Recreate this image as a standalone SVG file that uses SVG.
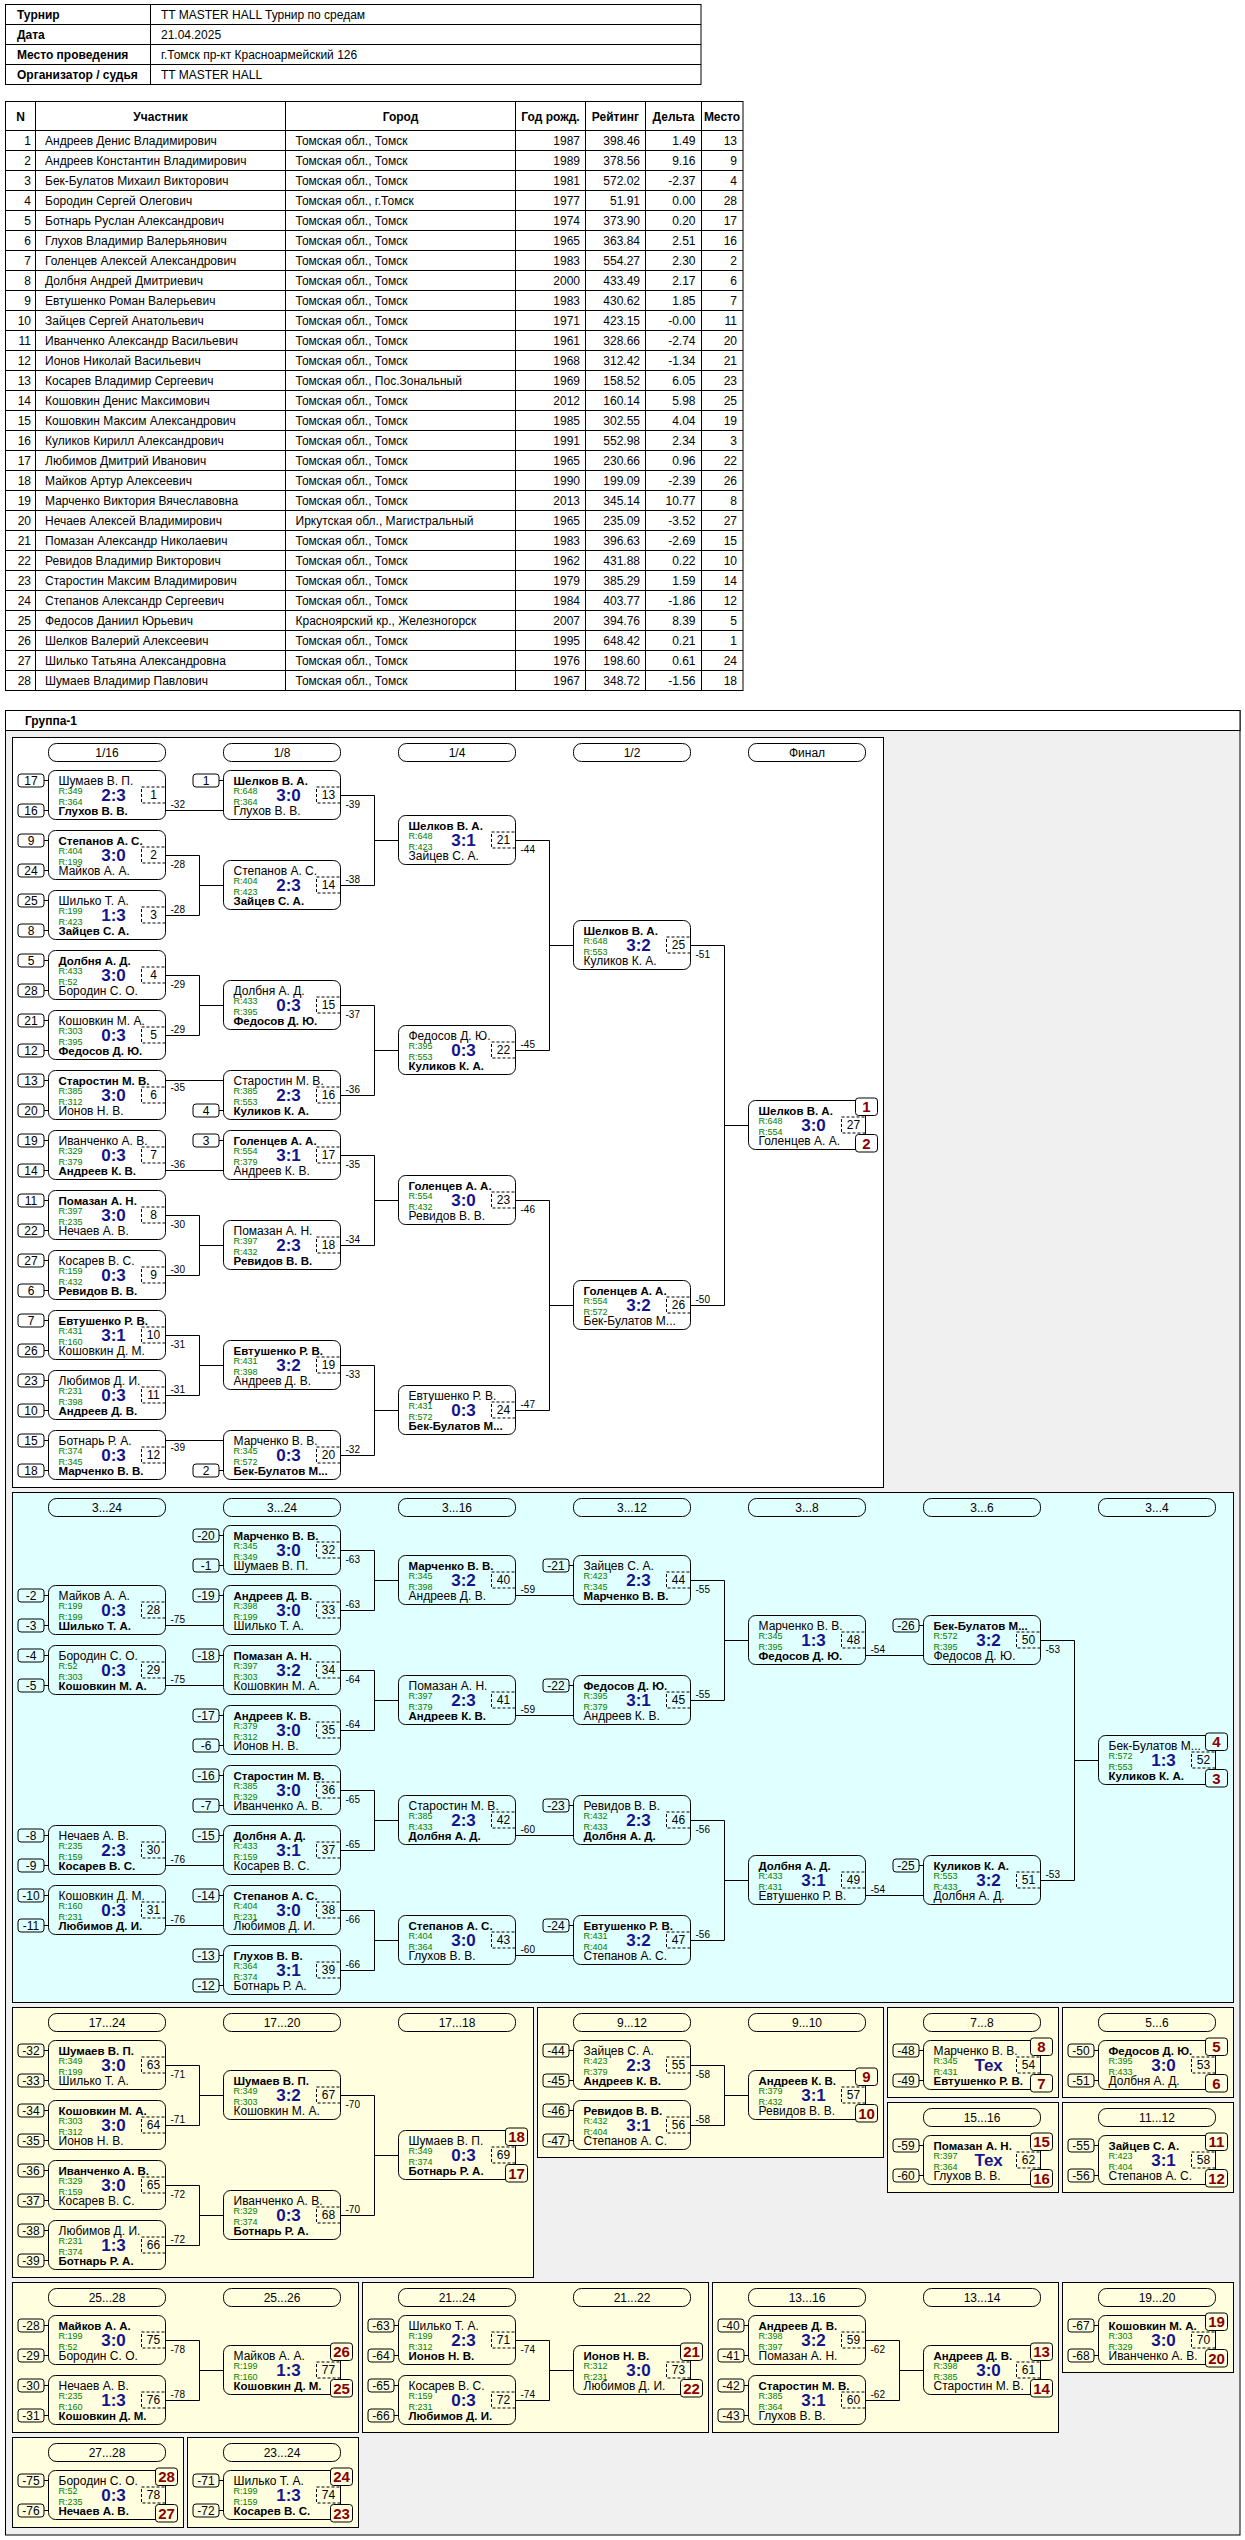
<svg xmlns="http://www.w3.org/2000/svg" width="1245" height="2540" viewBox="0 0 1245 2540">
<style>
text{font-family:"Liberation Sans",Arial,sans-serif;font-size:12px;fill:#000}
.tb{font-size:12px}
.h{font-weight:bold}
.e{text-anchor:end}
.c{text-anchor:middle}
.b{font-weight:bold;font-size:11.5px}
.r{font-size:9px;fill:#008000}
.sc{font-size:17px;font-weight:bold;fill:#14148c;text-anchor:middle}
.lb{font-size:10px}
.pn{font-size:15px;font-weight:bold;fill:#8b0000;text-anchor:middle}
.bx{fill:none;stroke:#000}
.nb{fill:none;stroke:#000;stroke-dasharray:3,2}
.sd{fill:none;stroke:#000}
.ln{fill:none;stroke:#000}
.pill{fill:none;stroke:#000}
.grid{stroke:#000;fill:none}
</style>
<defs>
<g id="B"><rect class="bx" width="117" height="49" rx="7"/><rect class="nb" x="93" y="16.5" width="24" height="16"/></g>
<g id="S1" class="sd"><rect x="-30.5" y="3.5" width="26" height="13" rx="3"/><path d="M-4.5 10H0"/></g>
<g id="S2" class="sd"><rect x="-30.5" y="33.5" width="26" height="13" rx="3"/><path d="M-4.5 40H0"/></g>
<rect id="P1" x="107" y="-2.5" width="22" height="17.5" rx="3" stroke="#000"/>
<rect id="P2" x="107" y="34" width="22" height="17.5" rx="3" stroke="#000"/>
<rect id="PL" width="117" height="18" rx="8" class="pill"/>
</defs>
<rect width="1245" height="2540" fill="#fff"/>

<g id="info">
<rect x="5.5" y="4.5" width="695.5" height="80" fill="#fff" stroke="#000"/>
<path class="grid" d="M5.5 24.5H701M5.5 44.5H701M5.5 64.5H701M150.5 4.5V84.5"/>
<text class="tb h" x="17" y="19">Турнир</text>
<text class="tb h" x="17" y="39">Дата</text>
<text class="tb h" x="17" y="59">Место проведения</text>
<text class="tb h" x="17" y="79">Организатор / судья</text>
<text class="tb" x="161" y="19">TT MASTER HALL Турнир по средам</text>
<text class="tb" x="161" y="39">21.04.2025</text>
<text class="tb" x="161" y="59">г.Томск пр-кт Красноармейский 126</text>
<text class="tb" x="161" y="79">TT MASTER HALL</text>
</g>

<g id="players">
<rect x="5.5" y="101.5" width="737.5" height="589" fill="#fff" stroke="#000"/>
<path class="grid" d="M5.5 130.5H743M5.5 150.5H743M5.5 170.5H743M5.5 190.5H743M5.5 210.5H743M5.5 230.5H743M5.5 250.5H743M5.5 270.5H743M5.5 290.5H743M5.5 310.5H743M5.5 330.5H743M5.5 350.5H743M5.5 370.5H743M5.5 390.5H743M5.5 410.5H743M5.5 430.5H743M5.5 450.5H743M5.5 470.5H743M5.5 490.5H743M5.5 510.5H743M5.5 530.5H743M5.5 550.5H743M5.5 570.5H743M5.5 590.5H743M5.5 610.5H743M5.5 630.5H743M5.5 650.5H743M5.5 670.5H743M35.5 101.5V690.5M285.5 101.5V690.5M515.5 101.5V690.5M585.5 101.5V690.5M645.5 101.5V690.5M701.5 101.5V690.5"/>
<text class="tb h c" x="20.5" y="120.5">N</text>
<text class="tb h c" x="160.5" y="120.5">Участник</text>
<text class="tb h c" x="400.5" y="120.5">Город</text>
<text class="tb h c" x="550.5" y="120.5">Год рожд.</text>
<text class="tb h c" x="615.5" y="120.5">Рейтинг</text>
<text class="tb h c" x="673.5" y="120.5">Дельта</text>
<text class="tb h c" x="722" y="120.5">Место</text>
<text class="tb e"><tspan x="31" y="145">1</tspan><tspan x="31" y="165">2</tspan><tspan x="31" y="185">3</tspan><tspan x="31" y="205">4</tspan><tspan x="31" y="225">5</tspan><tspan x="31" y="245">6</tspan><tspan x="31" y="265">7</tspan><tspan x="31" y="285">8</tspan><tspan x="31" y="305">9</tspan><tspan x="31" y="325">10</tspan><tspan x="31" y="345">11</tspan><tspan x="31" y="365">12</tspan><tspan x="31" y="385">13</tspan><tspan x="31" y="405">14</tspan><tspan x="31" y="425">15</tspan><tspan x="31" y="445">16</tspan><tspan x="31" y="465">17</tspan><tspan x="31" y="485">18</tspan><tspan x="31" y="505">19</tspan><tspan x="31" y="525">20</tspan><tspan x="31" y="545">21</tspan><tspan x="31" y="565">22</tspan><tspan x="31" y="585">23</tspan><tspan x="31" y="605">24</tspan><tspan x="31" y="625">25</tspan><tspan x="31" y="645">26</tspan><tspan x="31" y="665">27</tspan><tspan x="31" y="685">28</tspan></text>
<text class="tb"><tspan x="45" y="145">Андреев Денис Владимирович</tspan><tspan x="45" y="165">Андреев Константин Владимирович</tspan><tspan x="45" y="185">Бек-Булатов Михаил Викторович</tspan><tspan x="45" y="205">Бородин Сергей Олегович</tspan><tspan x="45" y="225">Ботнарь Руслан Александрович</tspan><tspan x="45" y="245">Глухов Владимир Валерьянович</tspan><tspan x="45" y="265">Голенцев Алексей Александрович</tspan><tspan x="45" y="285">Долбня Андрей Дмитриевич</tspan><tspan x="45" y="305">Евтушенко Роман Валерьевич</tspan><tspan x="45" y="325">Зайцев Сергей Анатольевич</tspan><tspan x="45" y="345">Иванченко Александр Васильевич</tspan><tspan x="45" y="365">Ионов Николай Васильевич</tspan><tspan x="45" y="385">Косарев Владимир Сергеевич</tspan><tspan x="45" y="405">Кошовкин Денис Максимович</tspan><tspan x="45" y="425">Кошовкин Максим Александрович</tspan><tspan x="45" y="445">Куликов Кирилл Александрович</tspan><tspan x="45" y="465">Любимов Дмитрий Иванович</tspan><tspan x="45" y="485">Майков Артур Алексеевич</tspan><tspan x="45" y="505">Марченко Виктория Вячеславовна</tspan><tspan x="45" y="525">Нечаев Алексей Владимирович</tspan><tspan x="45" y="545">Помазан Александр Николаевич</tspan><tspan x="45" y="565">Ревидов Владимир Викторович</tspan><tspan x="45" y="585">Старостин Максим Владимирович</tspan><tspan x="45" y="605">Степанов Александр Сергеевич</tspan><tspan x="45" y="625">Федосов Даниил Юрьевич</tspan><tspan x="45" y="645">Шелков Валерий Алексеевич</tspan><tspan x="45" y="665">Шилько Татьяна Александровна</tspan><tspan x="45" y="685">Шумаев Владимир Павлович</tspan></text>
<text class="tb"><tspan x="295.5" y="145">Томская обл., Томск</tspan><tspan x="295.5" y="165">Томская обл., Томск</tspan><tspan x="295.5" y="185">Томская обл., Томск</tspan><tspan x="295.5" y="205">Томская обл., г.Томск</tspan><tspan x="295.5" y="225">Томская обл., Томск</tspan><tspan x="295.5" y="245">Томская обл., Томск</tspan><tspan x="295.5" y="265">Томская обл., Томск</tspan><tspan x="295.5" y="285">Томская обл., Томск</tspan><tspan x="295.5" y="305">Томская обл., Томск</tspan><tspan x="295.5" y="325">Томская обл., Томск</tspan><tspan x="295.5" y="345">Томская обл., Томск</tspan><tspan x="295.5" y="365">Томская обл., Томск</tspan><tspan x="295.5" y="385">Томская обл., Пос.Зональный</tspan><tspan x="295.5" y="405">Томская обл., Томск</tspan><tspan x="295.5" y="425">Томская обл., Томск</tspan><tspan x="295.5" y="445">Томская обл., Томск</tspan><tspan x="295.5" y="465">Томская обл., Томск</tspan><tspan x="295.5" y="485">Томская обл., Томск</tspan><tspan x="295.5" y="505">Томская обл., Томск</tspan><tspan x="295.5" y="525">Иркутская обл., Магистральный</tspan><tspan x="295.5" y="545">Томская обл., Томск</tspan><tspan x="295.5" y="565">Томская обл., Томск</tspan><tspan x="295.5" y="585">Томская обл., Томск</tspan><tspan x="295.5" y="605">Томская обл., Томск</tspan><tspan x="295.5" y="625">Красноярский кр., Железногорск</tspan><tspan x="295.5" y="645">Томская обл., Томск</tspan><tspan x="295.5" y="665">Томская обл., Томск</tspan><tspan x="295.5" y="685">Томская обл., Томск</tspan></text>
<text class="tb e"><tspan x="580" y="145">1987</tspan><tspan x="580" y="165">1989</tspan><tspan x="580" y="185">1981</tspan><tspan x="580" y="205">1977</tspan><tspan x="580" y="225">1974</tspan><tspan x="580" y="245">1965</tspan><tspan x="580" y="265">1983</tspan><tspan x="580" y="285">2000</tspan><tspan x="580" y="305">1983</tspan><tspan x="580" y="325">1971</tspan><tspan x="580" y="345">1961</tspan><tspan x="580" y="365">1968</tspan><tspan x="580" y="385">1969</tspan><tspan x="580" y="405">2012</tspan><tspan x="580" y="425">1985</tspan><tspan x="580" y="445">1991</tspan><tspan x="580" y="465">1965</tspan><tspan x="580" y="485">1990</tspan><tspan x="580" y="505">2013</tspan><tspan x="580" y="525">1965</tspan><tspan x="580" y="545">1983</tspan><tspan x="580" y="565">1962</tspan><tspan x="580" y="585">1979</tspan><tspan x="580" y="605">1984</tspan><tspan x="580" y="625">2007</tspan><tspan x="580" y="645">1995</tspan><tspan x="580" y="665">1976</tspan><tspan x="580" y="685">1967</tspan></text>
<text class="tb e"><tspan x="640" y="145">398.46</tspan><tspan x="640" y="165">378.56</tspan><tspan x="640" y="185">572.02</tspan><tspan x="640" y="205">51.91</tspan><tspan x="640" y="225">373.90</tspan><tspan x="640" y="245">363.84</tspan><tspan x="640" y="265">554.27</tspan><tspan x="640" y="285">433.49</tspan><tspan x="640" y="305">430.62</tspan><tspan x="640" y="325">423.15</tspan><tspan x="640" y="345">328.66</tspan><tspan x="640" y="365">312.42</tspan><tspan x="640" y="385">158.52</tspan><tspan x="640" y="405">160.14</tspan><tspan x="640" y="425">302.55</tspan><tspan x="640" y="445">552.98</tspan><tspan x="640" y="465">230.66</tspan><tspan x="640" y="485">199.09</tspan><tspan x="640" y="505">345.14</tspan><tspan x="640" y="525">235.09</tspan><tspan x="640" y="545">396.63</tspan><tspan x="640" y="565">431.88</tspan><tspan x="640" y="585">385.29</tspan><tspan x="640" y="605">403.77</tspan><tspan x="640" y="625">394.76</tspan><tspan x="640" y="645">648.42</tspan><tspan x="640" y="665">198.60</tspan><tspan x="640" y="685">348.72</tspan></text>
<text class="tb e"><tspan x="695.5" y="145">1.49</tspan><tspan x="695.5" y="165">9.16</tspan><tspan x="695.5" y="185">-2.37</tspan><tspan x="695.5" y="205">0.00</tspan><tspan x="695.5" y="225">0.20</tspan><tspan x="695.5" y="245">2.51</tspan><tspan x="695.5" y="265">2.30</tspan><tspan x="695.5" y="285">2.17</tspan><tspan x="695.5" y="305">1.85</tspan><tspan x="695.5" y="325">-0.00</tspan><tspan x="695.5" y="345">-2.74</tspan><tspan x="695.5" y="365">-1.34</tspan><tspan x="695.5" y="385">6.05</tspan><tspan x="695.5" y="405">5.98</tspan><tspan x="695.5" y="425">4.04</tspan><tspan x="695.5" y="445">2.34</tspan><tspan x="695.5" y="465">0.96</tspan><tspan x="695.5" y="485">-2.39</tspan><tspan x="695.5" y="505">10.77</tspan><tspan x="695.5" y="525">-3.52</tspan><tspan x="695.5" y="545">-2.69</tspan><tspan x="695.5" y="565">0.22</tspan><tspan x="695.5" y="585">1.59</tspan><tspan x="695.5" y="605">-1.86</tspan><tspan x="695.5" y="625">8.39</tspan><tspan x="695.5" y="645">0.21</tspan><tspan x="695.5" y="665">0.61</tspan><tspan x="695.5" y="685">-1.56</tspan></text>
<text class="tb e"><tspan x="737" y="145">13</tspan><tspan x="737" y="165">9</tspan><tspan x="737" y="185">4</tspan><tspan x="737" y="205">28</tspan><tspan x="737" y="225">17</tspan><tspan x="737" y="245">16</tspan><tspan x="737" y="265">2</tspan><tspan x="737" y="285">6</tspan><tspan x="737" y="305">7</tspan><tspan x="737" y="325">11</tspan><tspan x="737" y="345">20</tspan><tspan x="737" y="365">21</tspan><tspan x="737" y="385">23</tspan><tspan x="737" y="405">25</tspan><tspan x="737" y="425">19</tspan><tspan x="737" y="445">3</tspan><tspan x="737" y="465">22</tspan><tspan x="737" y="485">26</tspan><tspan x="737" y="505">8</tspan><tspan x="737" y="525">27</tspan><tspan x="737" y="545">15</tspan><tspan x="737" y="565">10</tspan><tspan x="737" y="585">14</tspan><tspan x="737" y="605">12</tspan><tspan x="737" y="625">5</tspan><tspan x="737" y="645">1</tspan><tspan x="737" y="665">24</tspan><tspan x="737" y="685">18</tspan></text>
</g>

<g id="group1-frame">
<rect x="5.5" y="710.5" width="1234.5" height="1824.5" fill="#f0f0f0" stroke="#000"/>
<rect x="5.5" y="710.5" width="1234.5" height="20" fill="#fff" stroke="#000"/>
<text class="h" x="25" y="725">Группа-1</text>
</g>

<g id="panels">
<rect x="12.5" y="737.5" width="871" height="750" fill="#fff" stroke="#000"/>
<rect x="12.5" y="1492.5" width="1221" height="510" fill="#e0ffff" stroke="#000"/>
<rect x="12.5" y="2007.5" width="521" height="270" fill="#ffffe0" stroke="#000"/>
<rect x="537.5" y="2007.5" width="346" height="150" fill="#ffffe0" stroke="#000"/>
<rect x="887.5" y="2007.5" width="171" height="90" fill="#ffffe0" stroke="#000"/>
<rect x="1062.5" y="2007.5" width="171" height="90" fill="#ffffe0" stroke="#000"/>
<rect x="887.5" y="2102.5" width="171" height="90" fill="#ffffe0" stroke="#000"/>
<rect x="1062.5" y="2102.5" width="171" height="90" fill="#ffffe0" stroke="#000"/>
<rect x="12.5" y="2282.5" width="346" height="150" fill="#ffffe0" stroke="#000"/>
<rect x="362.5" y="2282.5" width="346" height="150" fill="#ffffe0" stroke="#000"/>
<rect x="712.5" y="2282.5" width="346" height="150" fill="#ffffe0" stroke="#000"/>
<rect x="1062.5" y="2282.5" width="171" height="90" fill="#ffffe0" stroke="#000"/>
<rect x="12.5" y="2437.5" width="171" height="90" fill="#ffffe0" stroke="#000"/>
<rect x="187.5" y="2437.5" width="171" height="90" fill="#ffffe0" stroke="#000"/>
</g>

<g id="round-labels">
<use href="#PL" x="48.5" y="743.5"/><text class="c" x="107" y="757">1/16</text>
<use href="#PL" x="223.5" y="743.5"/><text class="c" x="282" y="757">1/8</text>
<use href="#PL" x="398.5" y="743.5"/><text class="c" x="457" y="757">1/4</text>
<use href="#PL" x="573.5" y="743.5"/><text class="c" x="632" y="757">1/2</text>
<use href="#PL" x="748.5" y="743.5"/><text class="c" x="807" y="757">Финал</text>
<use href="#PL" x="48.5" y="1498.5"/><text class="c" x="107" y="1512">3...24</text>
<use href="#PL" x="223.5" y="1498.5"/><text class="c" x="282" y="1512">3...24</text>
<use href="#PL" x="398.5" y="1498.5"/><text class="c" x="457" y="1512">3...16</text>
<use href="#PL" x="573.5" y="1498.5"/><text class="c" x="632" y="1512">3...12</text>
<use href="#PL" x="748.5" y="1498.5"/><text class="c" x="807" y="1512">3...8</text>
<use href="#PL" x="923.5" y="1498.5"/><text class="c" x="982" y="1512">3...6</text>
<use href="#PL" x="1098.5" y="1498.5"/><text class="c" x="1157" y="1512">3...4</text>
<use href="#PL" x="48.5" y="2013.5"/><text class="c" x="107" y="2027">17...24</text>
<use href="#PL" x="223.5" y="2013.5"/><text class="c" x="282" y="2027">17...20</text>
<use href="#PL" x="398.5" y="2013.5"/><text class="c" x="457" y="2027">17...18</text>
<use href="#PL" x="573.5" y="2013.5"/><text class="c" x="632" y="2027">9...12</text>
<use href="#PL" x="748.5" y="2013.5"/><text class="c" x="807" y="2027">9...10</text>
<use href="#PL" x="923.5" y="2013.5"/><text class="c" x="982" y="2027">7...8</text>
<use href="#PL" x="1098.5" y="2013.5"/><text class="c" x="1157" y="2027">5...6</text>
<use href="#PL" x="923.5" y="2108.5"/><text class="c" x="982" y="2122">15...16</text>
<use href="#PL" x="1098.5" y="2108.5"/><text class="c" x="1157" y="2122">11...12</text>
<use href="#PL" x="48.5" y="2288.5"/><text class="c" x="107" y="2302">25...28</text>
<use href="#PL" x="223.5" y="2288.5"/><text class="c" x="282" y="2302">25...26</text>
<use href="#PL" x="398.5" y="2288.5"/><text class="c" x="457" y="2302">21...24</text>
<use href="#PL" x="573.5" y="2288.5"/><text class="c" x="632" y="2302">21...22</text>
<use href="#PL" x="748.5" y="2288.5"/><text class="c" x="807" y="2302">13...16</text>
<use href="#PL" x="923.5" y="2288.5"/><text class="c" x="982" y="2302">13...14</text>
<use href="#PL" x="1098.5" y="2288.5"/><text class="c" x="1157" y="2302">19...20</text>
<use href="#PL" x="48.5" y="2443.5"/><text class="c" x="107" y="2457">27...28</text>
<use href="#PL" x="223.5" y="2443.5"/><text class="c" x="282" y="2457">23...24</text>
</g>

<g id="connectors">
<path class="ln" d="M165.5 810.5H223.5M165.5 855.5H199.5V915.5H165.5M199.5 885.5H223.5M165.5 975.5H199.5V1035.5H165.5M199.5 1005.5H223.5M165.5 1080.5H223.5M165.5 1170.5H223.5M165.5 1215.5H199.5V1275.5H165.5M199.5 1245.5H223.5M165.5 1335.5H199.5V1395.5H165.5M199.5 1365.5H223.5M165.5 1440.5H223.5"/>
<path class="ln" d="M340.5 795.5H374.5V885.5H340.5M374.5 840.5H398.5M340.5 1005.5H374.5V1095.5H340.5M374.5 1050.5H398.5M340.5 1155.5H374.5V1245.5H340.5M374.5 1200.5H398.5M340.5 1365.5H374.5V1455.5H340.5M374.5 1410.5H398.5"/>
<path class="ln" d="M515.5 840.5H549.5V1050.5H515.5M549.5 945.5H573.5M515.5 1200.5H549.5V1410.5H515.5M549.5 1305.5H573.5M690.5 945.5H724.5V1305.5H690.5M724.5 1125.5H748.5"/>
<path class="ln" d="M165.5 1625.5H223.5M165.5 1685.5H223.5M165.5 1865.5H223.5M165.5 1925.5H223.5"/>
<path class="ln" d="M340.5 1550.5H374.5V1610.5H340.5M374.5 1580.5H398.5M340.5 1670.5H374.5V1730.5H340.5M374.5 1700.5H398.5M340.5 1790.5H374.5V1850.5H340.5M374.5 1820.5H398.5M340.5 1910.5H374.5V1970.5H340.5M374.5 1940.5H398.5"/>
<path class="ln" d="M515.5 1595.5H573.5M515.5 1715.5H573.5M515.5 1835.5H573.5M515.5 1955.5H573.5"/>
<path class="ln" d="M690.5 1580.5H724.5V1700.5H690.5M724.5 1640.5H748.5M690.5 1820.5H724.5V1940.5H690.5M724.5 1880.5H748.5M865.5 1655.5H923.5M865.5 1895.5H923.5M1040.5 1640.5H1074.5V1880.5H1040.5M1074.5 1760.5H1098.5"/>
<path class="ln" d="M165.5 2065.5H199.5V2125.5H165.5M199.5 2095.5H223.5M165.5 2185.5H199.5V2245.5H165.5M199.5 2215.5H223.5M340.5 2095.5H374.5V2215.5H340.5M374.5 2155.5H398.5"/>
<path class="ln" d="M690.5 2065.5H724.5V2125.5H690.5M724.5 2095.5H748.5"/>
<path class="ln" d="M165.5 2340.5H199.5V2400.5H165.5M199.5 2370.5H223.5M515.5 2340.5H549.5V2400.5H515.5M549.5 2370.5H573.5M865.5 2340.5H899.5V2400.5H865.5M899.5 2370.5H923.5"/>
<g class="labels">
<text class="lb" x="170.5" y="807.5">-32</text>
<text class="lb" x="170.5" y="867.5">-28</text>
<text class="lb" x="170.5" y="912.5">-28</text>
<text class="lb" x="170.5" y="987.5">-29</text>
<text class="lb" x="170.5" y="1032.5">-29</text>
<text class="lb" x="170.5" y="1090.5">-35</text>
<text class="lb" x="170.5" y="1167.5">-36</text>
<text class="lb" x="170.5" y="1227.5">-30</text>
<text class="lb" x="170.5" y="1272.5">-30</text>
<text class="lb" x="170.5" y="1347.5">-31</text>
<text class="lb" x="170.5" y="1392.5">-31</text>
<text class="lb" x="170.5" y="1450.5">-39</text>
<text class="lb" x="345.5" y="807.5">-39</text>
<text class="lb" x="345.5" y="882.5">-38</text>
<text class="lb" x="345.5" y="1017.5">-37</text>
<text class="lb" x="345.5" y="1092.5">-36</text>
<text class="lb" x="345.5" y="1167.5">-35</text>
<text class="lb" x="345.5" y="1242.5">-34</text>
<text class="lb" x="345.5" y="1377.5">-33</text>
<text class="lb" x="345.5" y="1452.5">-32</text>
<text class="lb" x="520.5" y="852.5">-44</text>
<text class="lb" x="520.5" y="1047.5">-45</text>
<text class="lb" x="520.5" y="1212.5">-46</text>
<text class="lb" x="520.5" y="1407.5">-47</text>
<text class="lb" x="695.5" y="957.5">-51</text>
<text class="lb" x="695.5" y="1302.5">-50</text>
<text class="lb" x="170.5" y="1622.5">-75</text>
<text class="lb" x="170.5" y="1682.5">-75</text>
<text class="lb" x="170.5" y="1862.5">-76</text>
<text class="lb" x="170.5" y="1922.5">-76</text>
<text class="lb" x="345.5" y="1562.5">-63</text>
<text class="lb" x="345.5" y="1607.5">-63</text>
<text class="lb" x="345.5" y="1682.5">-64</text>
<text class="lb" x="345.5" y="1727.5">-64</text>
<text class="lb" x="345.5" y="1802.5">-65</text>
<text class="lb" x="345.5" y="1847.5">-65</text>
<text class="lb" x="345.5" y="1922.5">-66</text>
<text class="lb" x="345.5" y="1967.5">-66</text>
<text class="lb" x="520.5" y="1592.5">-59</text>
<text class="lb" x="520.5" y="1712.5">-59</text>
<text class="lb" x="520.5" y="1832.5">-60</text>
<text class="lb" x="520.5" y="1952.5">-60</text>
<text class="lb" x="695.5" y="1592.5">-55</text>
<text class="lb" x="695.5" y="1697.5">-55</text>
<text class="lb" x="695.5" y="1832.5">-56</text>
<text class="lb" x="695.5" y="1937.5">-56</text>
<text class="lb" x="870.5" y="1652.5">-54</text>
<text class="lb" x="870.5" y="1892.5">-54</text>
<text class="lb" x="1045.5" y="1652.5">-53</text>
<text class="lb" x="1045.5" y="1877.5">-53</text>
<text class="lb" x="170.5" y="2077.5">-71</text>
<text class="lb" x="170.5" y="2122.5">-71</text>
<text class="lb" x="170.5" y="2197.5">-72</text>
<text class="lb" x="170.5" y="2242.5">-72</text>
<text class="lb" x="345.5" y="2107.5">-70</text>
<text class="lb" x="345.5" y="2212.5">-70</text>
<text class="lb" x="695.5" y="2077.5">-58</text>
<text class="lb" x="695.5" y="2122.5">-58</text>
<text class="lb" x="170.5" y="2352.5">-78</text>
<text class="lb" x="170.5" y="2397.5">-78</text>
<text class="lb" x="520.5" y="2352.5">-74</text>
<text class="lb" x="520.5" y="2397.5">-74</text>
<text class="lb" x="870.5" y="2352.5">-62</text>
<text class="lb" x="870.5" y="2397.5">-62</text>
</g>
</g>

<g id="matches">
<g id="m1" transform="translate(48.5,770.5)"><use href="#B"/><use href="#S1"/><use href="#S2"/><text class="c" x="-17.5" y="14.3">17</text><text class="c" x="-17.5" y="44.3">16</text><text x="10" y="14.5">Шумаев В. П.</text><text class="r" x="10" y="23.5">R:349</text><text class="r" x="10" y="34">R:364</text><text class="b" x="10" y="44">Глухов В. В.</text><text class="sc" x="65" y="30.5">2:3</text><text class="c" x="105" y="28.9">1</text></g>
<g id="m2" transform="translate(48.5,830.5)"><use href="#B"/><use href="#S1"/><use href="#S2"/><text class="c" x="-17.5" y="14.3">9</text><text class="c" x="-17.5" y="44.3">24</text><text class="b" x="10" y="14.5">Степанов А. С.</text><text class="r" x="10" y="23.5">R:404</text><text class="r" x="10" y="34">R:199</text><text x="10" y="44">Майков А. А.</text><text class="sc" x="65" y="30.5">3:0</text><text class="c" x="105" y="28.9">2</text></g>
<g id="m3" transform="translate(48.5,890.5)"><use href="#B"/><use href="#S1"/><use href="#S2"/><text class="c" x="-17.5" y="14.3">25</text><text class="c" x="-17.5" y="44.3">8</text><text x="10" y="14.5">Шилько Т. А.</text><text class="r" x="10" y="23.5">R:199</text><text class="r" x="10" y="34">R:423</text><text class="b" x="10" y="44">Зайцев С. А.</text><text class="sc" x="65" y="30.5">1:3</text><text class="c" x="105" y="28.9">3</text></g>
<g id="m4" transform="translate(48.5,950.5)"><use href="#B"/><use href="#S1"/><use href="#S2"/><text class="c" x="-17.5" y="14.3">5</text><text class="c" x="-17.5" y="44.3">28</text><text class="b" x="10" y="14.5">Долбня А. Д.</text><text class="r" x="10" y="23.5">R:433</text><text class="r" x="10" y="34">R:52</text><text x="10" y="44">Бородин С. О.</text><text class="sc" x="65" y="30.5">3:0</text><text class="c" x="105" y="28.9">4</text></g>
<g id="m5" transform="translate(48.5,1010.5)"><use href="#B"/><use href="#S1"/><use href="#S2"/><text class="c" x="-17.5" y="14.3">21</text><text class="c" x="-17.5" y="44.3">12</text><text x="10" y="14.5">Кошовкин М. А.</text><text class="r" x="10" y="23.5">R:303</text><text class="r" x="10" y="34">R:395</text><text class="b" x="10" y="44">Федосов Д. Ю.</text><text class="sc" x="65" y="30.5">0:3</text><text class="c" x="105" y="28.9">5</text></g>
<g id="m6" transform="translate(48.5,1070.5)"><use href="#B"/><use href="#S1"/><use href="#S2"/><text class="c" x="-17.5" y="14.3">13</text><text class="c" x="-17.5" y="44.3">20</text><text class="b" x="10" y="14.5">Старостин М. В.</text><text class="r" x="10" y="23.5">R:385</text><text class="r" x="10" y="34">R:312</text><text x="10" y="44">Ионов Н. В.</text><text class="sc" x="65" y="30.5">3:0</text><text class="c" x="105" y="28.9">6</text></g>
<g id="m7" transform="translate(48.5,1130.5)"><use href="#B"/><use href="#S1"/><use href="#S2"/><text class="c" x="-17.5" y="14.3">19</text><text class="c" x="-17.5" y="44.3">14</text><text x="10" y="14.5">Иванченко А. В.</text><text class="r" x="10" y="23.5">R:329</text><text class="r" x="10" y="34">R:379</text><text class="b" x="10" y="44">Андреев К. В.</text><text class="sc" x="65" y="30.5">0:3</text><text class="c" x="105" y="28.9">7</text></g>
<g id="m8" transform="translate(48.5,1190.5)"><use href="#B"/><use href="#S1"/><use href="#S2"/><text class="c" x="-17.5" y="14.3">11</text><text class="c" x="-17.5" y="44.3">22</text><text class="b" x="10" y="14.5">Помазан А. Н.</text><text class="r" x="10" y="23.5">R:397</text><text class="r" x="10" y="34">R:235</text><text x="10" y="44">Нечаев А. В.</text><text class="sc" x="65" y="30.5">3:0</text><text class="c" x="105" y="28.9">8</text></g>
<g id="m9" transform="translate(48.5,1250.5)"><use href="#B"/><use href="#S1"/><use href="#S2"/><text class="c" x="-17.5" y="14.3">27</text><text class="c" x="-17.5" y="44.3">6</text><text x="10" y="14.5">Косарев В. С.</text><text class="r" x="10" y="23.5">R:159</text><text class="r" x="10" y="34">R:432</text><text class="b" x="10" y="44">Ревидов В. В.</text><text class="sc" x="65" y="30.5">0:3</text><text class="c" x="105" y="28.9">9</text></g>
<g id="m10" transform="translate(48.5,1310.5)"><use href="#B"/><use href="#S1"/><use href="#S2"/><text class="c" x="-17.5" y="14.3">7</text><text class="c" x="-17.5" y="44.3">26</text><text class="b" x="10" y="14.5">Евтушенко Р. В.</text><text class="r" x="10" y="23.5">R:431</text><text class="r" x="10" y="34">R:160</text><text x="10" y="44">Кошовкин Д. М.</text><text class="sc" x="65" y="30.5">3:1</text><text class="c" x="105" y="28.9">10</text></g>
<g id="m11" transform="translate(48.5,1370.5)"><use href="#B"/><use href="#S1"/><use href="#S2"/><text class="c" x="-17.5" y="14.3">23</text><text class="c" x="-17.5" y="44.3">10</text><text x="10" y="14.5">Любимов Д. И.</text><text class="r" x="10" y="23.5">R:231</text><text class="r" x="10" y="34">R:398</text><text class="b" x="10" y="44">Андреев Д. В.</text><text class="sc" x="65" y="30.5">0:3</text><text class="c" x="105" y="28.9">11</text></g>
<g id="m12" transform="translate(48.5,1430.5)"><use href="#B"/><use href="#S1"/><use href="#S2"/><text class="c" x="-17.5" y="14.3">15</text><text class="c" x="-17.5" y="44.3">18</text><text x="10" y="14.5">Ботнарь Р. А.</text><text class="r" x="10" y="23.5">R:374</text><text class="r" x="10" y="34">R:345</text><text class="b" x="10" y="44">Марченко В. В.</text><text class="sc" x="65" y="30.5">0:3</text><text class="c" x="105" y="28.9">12</text></g>
<g id="m13" transform="translate(223.5,770.5)"><use href="#B"/><use href="#S1"/><text class="c" x="-17.5" y="14.3">1</text><text class="b" x="10" y="14.5">Шелков В. А.</text><text class="r" x="10" y="23.5">R:648</text><text class="r" x="10" y="34">R:364</text><text x="10" y="44">Глухов В. В.</text><text class="sc" x="65" y="30.5">3:0</text><text class="c" x="105" y="28.9">13</text></g>
<g id="m14" transform="translate(223.5,860.5)"><use href="#B"/><text x="10" y="14.5">Степанов А. С.</text><text class="r" x="10" y="23.5">R:404</text><text class="r" x="10" y="34">R:423</text><text class="b" x="10" y="44">Зайцев С. А.</text><text class="sc" x="65" y="30.5">2:3</text><text class="c" x="105" y="28.9">14</text></g>
<g id="m15" transform="translate(223.5,980.5)"><use href="#B"/><text x="10" y="14.5">Долбня А. Д.</text><text class="r" x="10" y="23.5">R:433</text><text class="r" x="10" y="34">R:395</text><text class="b" x="10" y="44">Федосов Д. Ю.</text><text class="sc" x="65" y="30.5">0:3</text><text class="c" x="105" y="28.9">15</text></g>
<g id="m16" transform="translate(223.5,1070.5)"><use href="#B"/><use href="#S2"/><text class="c" x="-17.5" y="44.3">4</text><text x="10" y="14.5">Старостин М. В.</text><text class="r" x="10" y="23.5">R:385</text><text class="r" x="10" y="34">R:553</text><text class="b" x="10" y="44">Куликов К. А.</text><text class="sc" x="65" y="30.5">2:3</text><text class="c" x="105" y="28.9">16</text></g>
<g id="m17" transform="translate(223.5,1130.5)"><use href="#B"/><use href="#S1"/><text class="c" x="-17.5" y="14.3">3</text><text class="b" x="10" y="14.5">Голенцев А. А.</text><text class="r" x="10" y="23.5">R:554</text><text class="r" x="10" y="34">R:379</text><text x="10" y="44">Андреев К. В.</text><text class="sc" x="65" y="30.5">3:1</text><text class="c" x="105" y="28.9">17</text></g>
<g id="m18" transform="translate(223.5,1220.5)"><use href="#B"/><text x="10" y="14.5">Помазан А. Н.</text><text class="r" x="10" y="23.5">R:397</text><text class="r" x="10" y="34">R:432</text><text class="b" x="10" y="44">Ревидов В. В.</text><text class="sc" x="65" y="30.5">2:3</text><text class="c" x="105" y="28.9">18</text></g>
<g id="m19" transform="translate(223.5,1340.5)"><use href="#B"/><text class="b" x="10" y="14.5">Евтушенко Р. В.</text><text class="r" x="10" y="23.5">R:431</text><text class="r" x="10" y="34">R:398</text><text x="10" y="44">Андреев Д. В.</text><text class="sc" x="65" y="30.5">3:2</text><text class="c" x="105" y="28.9">19</text></g>
<g id="m20" transform="translate(223.5,1430.5)"><use href="#B"/><use href="#S2"/><text class="c" x="-17.5" y="44.3">2</text><text x="10" y="14.5">Марченко В. В.</text><text class="r" x="10" y="23.5">R:345</text><text class="r" x="10" y="34">R:572</text><text class="b" x="10" y="44">Бек-Булатов М...</text><text class="sc" x="65" y="30.5">0:3</text><text class="c" x="105" y="28.9">20</text></g>
<g id="m21" transform="translate(398.5,815.5)"><use href="#B"/><text class="b" x="10" y="14.5">Шелков В. А.</text><text class="r" x="10" y="23.5">R:648</text><text class="r" x="10" y="34">R:423</text><text x="10" y="44">Зайцев С. А.</text><text class="sc" x="65" y="30.5">3:1</text><text class="c" x="105" y="28.9">21</text></g>
<g id="m22" transform="translate(398.5,1025.5)"><use href="#B"/><text x="10" y="14.5">Федосов Д. Ю.</text><text class="r" x="10" y="23.5">R:395</text><text class="r" x="10" y="34">R:553</text><text class="b" x="10" y="44">Куликов К. А.</text><text class="sc" x="65" y="30.5">0:3</text><text class="c" x="105" y="28.9">22</text></g>
<g id="m23" transform="translate(398.5,1175.5)"><use href="#B"/><text class="b" x="10" y="14.5">Голенцев А. А.</text><text class="r" x="10" y="23.5">R:554</text><text class="r" x="10" y="34">R:432</text><text x="10" y="44">Ревидов В. В.</text><text class="sc" x="65" y="30.5">3:0</text><text class="c" x="105" y="28.9">23</text></g>
<g id="m24" transform="translate(398.5,1385.5)"><use href="#B"/><text x="10" y="14.5">Евтушенко Р. В.</text><text class="r" x="10" y="23.5">R:431</text><text class="r" x="10" y="34">R:572</text><text class="b" x="10" y="44">Бек-Булатов М...</text><text class="sc" x="65" y="30.5">0:3</text><text class="c" x="105" y="28.9">24</text></g>
<g id="m25" transform="translate(573.5,920.5)"><use href="#B"/><text class="b" x="10" y="14.5">Шелков В. А.</text><text class="r" x="10" y="23.5">R:648</text><text class="r" x="10" y="34">R:553</text><text x="10" y="44">Куликов К. А.</text><text class="sc" x="65" y="30.5">3:2</text><text class="c" x="105" y="28.9">25</text></g>
<g id="m26" transform="translate(573.5,1280.5)"><use href="#B"/><text class="b" x="10" y="14.5">Голенцев А. А.</text><text class="r" x="10" y="23.5">R:554</text><text class="r" x="10" y="34">R:572</text><text x="10" y="44">Бек-Булатов М...</text><text class="sc" x="65" y="30.5">3:2</text><text class="c" x="105" y="28.9">26</text></g>
<g id="m27" transform="translate(748.5,1100.5)"><use href="#B"/><text class="b" x="10" y="14.5">Шелков В. А.</text><text class="r" x="10" y="23.5">R:648</text><text class="r" x="10" y="34">R:554</text><text x="10" y="44">Голенцев А. А.</text><text class="sc" x="65" y="30.5">3:0</text><text class="c" x="105" y="28.9">27</text><use href="#P1" fill="#fff"/><use href="#P2" fill="#fff"/><text class="pn" x="118" y="11.6">1</text><text class="pn" x="118" y="48">2</text></g>

<g id="m28" transform="translate(48.5,1585.5)"><use href="#B"/><use href="#S1"/><use href="#S2"/><text class="c" x="-17.5" y="14.3">-2</text><text class="c" x="-17.5" y="44.3">-3</text><text x="10" y="14.5">Майков А. А.</text><text class="r" x="10" y="23.5">R:199</text><text class="r" x="10" y="34">R:199</text><text class="b" x="10" y="44">Шилько Т. А.</text><text class="sc" x="65" y="30.5">0:3</text><text class="c" x="105" y="28.9">28</text></g>
<g id="m29" transform="translate(48.5,1645.5)"><use href="#B"/><use href="#S1"/><use href="#S2"/><text class="c" x="-17.5" y="14.3">-4</text><text class="c" x="-17.5" y="44.3">-5</text><text x="10" y="14.5">Бородин С. О.</text><text class="r" x="10" y="23.5">R:52</text><text class="r" x="10" y="34">R:303</text><text class="b" x="10" y="44">Кошовкин М. А.</text><text class="sc" x="65" y="30.5">0:3</text><text class="c" x="105" y="28.9">29</text></g>
<g id="m30" transform="translate(48.5,1825.5)"><use href="#B"/><use href="#S1"/><use href="#S2"/><text class="c" x="-17.5" y="14.3">-8</text><text class="c" x="-17.5" y="44.3">-9</text><text x="10" y="14.5">Нечаев А. В.</text><text class="r" x="10" y="23.5">R:235</text><text class="r" x="10" y="34">R:159</text><text class="b" x="10" y="44">Косарев В. С.</text><text class="sc" x="65" y="30.5">2:3</text><text class="c" x="105" y="28.9">30</text></g>
<g id="m31" transform="translate(48.5,1885.5)"><use href="#B"/><use href="#S1"/><use href="#S2"/><text class="c" x="-17.5" y="14.3">-10</text><text class="c" x="-17.5" y="44.3">-11</text><text x="10" y="14.5">Кошовкин Д. М.</text><text class="r" x="10" y="23.5">R:160</text><text class="r" x="10" y="34">R:231</text><text class="b" x="10" y="44">Любимов Д. И.</text><text class="sc" x="65" y="30.5">0:3</text><text class="c" x="105" y="28.9">31</text></g>
<g id="m32" transform="translate(223.5,1525.5)"><use href="#B"/><use href="#S1"/><use href="#S2"/><text class="c" x="-17.5" y="14.3">-20</text><text class="c" x="-17.5" y="44.3">-1</text><text class="b" x="10" y="14.5">Марченко В. В.</text><text class="r" x="10" y="23.5">R:345</text><text class="r" x="10" y="34">R:349</text><text x="10" y="44">Шумаев В. П.</text><text class="sc" x="65" y="30.5">3:0</text><text class="c" x="105" y="28.9">32</text></g>
<g id="m33" transform="translate(223.5,1585.5)"><use href="#B"/><use href="#S1"/><text class="c" x="-17.5" y="14.3">-19</text><text class="b" x="10" y="14.5">Андреев Д. В.</text><text class="r" x="10" y="23.5">R:398</text><text class="r" x="10" y="34">R:199</text><text x="10" y="44">Шилько Т. А.</text><text class="sc" x="65" y="30.5">3:0</text><text class="c" x="105" y="28.9">33</text></g>
<g id="m34" transform="translate(223.5,1645.5)"><use href="#B"/><use href="#S1"/><text class="c" x="-17.5" y="14.3">-18</text><text class="b" x="10" y="14.5">Помазан А. Н.</text><text class="r" x="10" y="23.5">R:397</text><text class="r" x="10" y="34">R:303</text><text x="10" y="44">Кошовкин М. А.</text><text class="sc" x="65" y="30.5">3:2</text><text class="c" x="105" y="28.9">34</text></g>
<g id="m35" transform="translate(223.5,1705.5)"><use href="#B"/><use href="#S1"/><use href="#S2"/><text class="c" x="-17.5" y="14.3">-17</text><text class="c" x="-17.5" y="44.3">-6</text><text class="b" x="10" y="14.5">Андреев К. В.</text><text class="r" x="10" y="23.5">R:379</text><text class="r" x="10" y="34">R:312</text><text x="10" y="44">Ионов Н. В.</text><text class="sc" x="65" y="30.5">3:0</text><text class="c" x="105" y="28.9">35</text></g>
<g id="m36" transform="translate(223.5,1765.5)"><use href="#B"/><use href="#S1"/><use href="#S2"/><text class="c" x="-17.5" y="14.3">-16</text><text class="c" x="-17.5" y="44.3">-7</text><text class="b" x="10" y="14.5">Старостин М. В.</text><text class="r" x="10" y="23.5">R:385</text><text class="r" x="10" y="34">R:329</text><text x="10" y="44">Иванченко А. В.</text><text class="sc" x="65" y="30.5">3:0</text><text class="c" x="105" y="28.9">36</text></g>
<g id="m37" transform="translate(223.5,1825.5)"><use href="#B"/><use href="#S1"/><text class="c" x="-17.5" y="14.3">-15</text><text class="b" x="10" y="14.5">Долбня А. Д.</text><text class="r" x="10" y="23.5">R:433</text><text class="r" x="10" y="34">R:159</text><text x="10" y="44">Косарев В. С.</text><text class="sc" x="65" y="30.5">3:1</text><text class="c" x="105" y="28.9">37</text></g>
<g id="m38" transform="translate(223.5,1885.5)"><use href="#B"/><use href="#S1"/><text class="c" x="-17.5" y="14.3">-14</text><text class="b" x="10" y="14.5">Степанов А. С.</text><text class="r" x="10" y="23.5">R:404</text><text class="r" x="10" y="34">R:231</text><text x="10" y="44">Любимов Д. И.</text><text class="sc" x="65" y="30.5">3:0</text><text class="c" x="105" y="28.9">38</text></g>
<g id="m39" transform="translate(223.5,1945.5)"><use href="#B"/><use href="#S1"/><use href="#S2"/><text class="c" x="-17.5" y="14.3">-13</text><text class="c" x="-17.5" y="44.3">-12</text><text class="b" x="10" y="14.5">Глухов В. В.</text><text class="r" x="10" y="23.5">R:364</text><text class="r" x="10" y="34">R:374</text><text x="10" y="44">Ботнарь Р. А.</text><text class="sc" x="65" y="30.5">3:1</text><text class="c" x="105" y="28.9">39</text></g>
<g id="m40" transform="translate(398.5,1555.5)"><use href="#B"/><text class="b" x="10" y="14.5">Марченко В. В.</text><text class="r" x="10" y="23.5">R:345</text><text class="r" x="10" y="34">R:398</text><text x="10" y="44">Андреев Д. В.</text><text class="sc" x="65" y="30.5">3:2</text><text class="c" x="105" y="28.9">40</text></g>
<g id="m41" transform="translate(398.5,1675.5)"><use href="#B"/><text x="10" y="14.5">Помазан А. Н.</text><text class="r" x="10" y="23.5">R:397</text><text class="r" x="10" y="34">R:379</text><text class="b" x="10" y="44">Андреев К. В.</text><text class="sc" x="65" y="30.5">2:3</text><text class="c" x="105" y="28.9">41</text></g>
<g id="m42" transform="translate(398.5,1795.5)"><use href="#B"/><text x="10" y="14.5">Старостин М. В.</text><text class="r" x="10" y="23.5">R:385</text><text class="r" x="10" y="34">R:433</text><text class="b" x="10" y="44">Долбня А. Д.</text><text class="sc" x="65" y="30.5">2:3</text><text class="c" x="105" y="28.9">42</text></g>
<g id="m43" transform="translate(398.5,1915.5)"><use href="#B"/><text class="b" x="10" y="14.5">Степанов А. С.</text><text class="r" x="10" y="23.5">R:404</text><text class="r" x="10" y="34">R:364</text><text x="10" y="44">Глухов В. В.</text><text class="sc" x="65" y="30.5">3:0</text><text class="c" x="105" y="28.9">43</text></g>
<g id="m44" transform="translate(573.5,1555.5)"><use href="#B"/><use href="#S1"/><text class="c" x="-17.5" y="14.3">-21</text><text x="10" y="14.5">Зайцев С. А.</text><text class="r" x="10" y="23.5">R:423</text><text class="r" x="10" y="34">R:345</text><text class="b" x="10" y="44">Марченко В. В.</text><text class="sc" x="65" y="30.5">2:3</text><text class="c" x="105" y="28.9">44</text></g>
<g id="m45" transform="translate(573.5,1675.5)"><use href="#B"/><use href="#S1"/><text class="c" x="-17.5" y="14.3">-22</text><text class="b" x="10" y="14.5">Федосов Д. Ю.</text><text class="r" x="10" y="23.5">R:395</text><text class="r" x="10" y="34">R:379</text><text x="10" y="44">Андреев К. В.</text><text class="sc" x="65" y="30.5">3:1</text><text class="c" x="105" y="28.9">45</text></g>
<g id="m46" transform="translate(573.5,1795.5)"><use href="#B"/><use href="#S1"/><text class="c" x="-17.5" y="14.3">-23</text><text x="10" y="14.5">Ревидов В. В.</text><text class="r" x="10" y="23.5">R:432</text><text class="r" x="10" y="34">R:433</text><text class="b" x="10" y="44">Долбня А. Д.</text><text class="sc" x="65" y="30.5">2:3</text><text class="c" x="105" y="28.9">46</text></g>
<g id="m47" transform="translate(573.5,1915.5)"><use href="#B"/><use href="#S1"/><text class="c" x="-17.5" y="14.3">-24</text><text class="b" x="10" y="14.5">Евтушенко Р. В.</text><text class="r" x="10" y="23.5">R:431</text><text class="r" x="10" y="34">R:404</text><text x="10" y="44">Степанов А. С.</text><text class="sc" x="65" y="30.5">3:2</text><text class="c" x="105" y="28.9">47</text></g>
<g id="m48" transform="translate(748.5,1615.5)"><use href="#B"/><text x="10" y="14.5">Марченко В. В.</text><text class="r" x="10" y="23.5">R:345</text><text class="r" x="10" y="34">R:395</text><text class="b" x="10" y="44">Федосов Д. Ю.</text><text class="sc" x="65" y="30.5">1:3</text><text class="c" x="105" y="28.9">48</text></g>
<g id="m49" transform="translate(748.5,1855.5)"><use href="#B"/><text class="b" x="10" y="14.5">Долбня А. Д.</text><text class="r" x="10" y="23.5">R:433</text><text class="r" x="10" y="34">R:431</text><text x="10" y="44">Евтушенко Р. В.</text><text class="sc" x="65" y="30.5">3:1</text><text class="c" x="105" y="28.9">49</text></g>
<g id="m50" transform="translate(923.5,1615.5)"><use href="#B"/><use href="#S1"/><text class="c" x="-17.5" y="14.3">-26</text><text class="b" x="10" y="14.5">Бек-Булатов М...</text><text class="r" x="10" y="23.5">R:572</text><text class="r" x="10" y="34">R:395</text><text x="10" y="44">Федосов Д. Ю.</text><text class="sc" x="65" y="30.5">3:2</text><text class="c" x="105" y="28.9">50</text></g>
<g id="m51" transform="translate(923.5,1855.5)"><use href="#B"/><use href="#S1"/><text class="c" x="-17.5" y="14.3">-25</text><text class="b" x="10" y="14.5">Куликов К. А.</text><text class="r" x="10" y="23.5">R:553</text><text class="r" x="10" y="34">R:433</text><text x="10" y="44">Долбня А. Д.</text><text class="sc" x="65" y="30.5">3:2</text><text class="c" x="105" y="28.9">51</text></g>
<g id="m52" transform="translate(1098.5,1735.5)"><use href="#B"/><text x="10" y="14.5">Бек-Булатов М...</text><text class="r" x="10" y="23.5">R:572</text><text class="r" x="10" y="34">R:553</text><text class="b" x="10" y="44">Куликов К. А.</text><text class="sc" x="65" y="30.5">1:3</text><text class="c" x="105" y="28.9">52</text><use href="#P1" fill="#e0ffff"/><use href="#P2" fill="#e0ffff"/><text class="pn" x="118" y="11.6">4</text><text class="pn" x="118" y="48">3</text></g>

<g id="m63" transform="translate(48.5,2040.5)"><use href="#B"/><use href="#S1"/><use href="#S2"/><text class="c" x="-17.5" y="14.3">-32</text><text class="c" x="-17.5" y="44.3">-33</text><text class="b" x="10" y="14.5">Шумаев В. П.</text><text class="r" x="10" y="23.5">R:349</text><text class="r" x="10" y="34">R:199</text><text x="10" y="44">Шилько Т. А.</text><text class="sc" x="65" y="30.5">3:0</text><text class="c" x="105" y="28.9">63</text></g>
<g id="m64" transform="translate(48.5,2100.5)"><use href="#B"/><use href="#S1"/><use href="#S2"/><text class="c" x="-17.5" y="14.3">-34</text><text class="c" x="-17.5" y="44.3">-35</text><text class="b" x="10" y="14.5">Кошовкин М. А.</text><text class="r" x="10" y="23.5">R:303</text><text class="r" x="10" y="34">R:312</text><text x="10" y="44">Ионов Н. В.</text><text class="sc" x="65" y="30.5">3:0</text><text class="c" x="105" y="28.9">64</text></g>
<g id="m65" transform="translate(48.5,2160.5)"><use href="#B"/><use href="#S1"/><use href="#S2"/><text class="c" x="-17.5" y="14.3">-36</text><text class="c" x="-17.5" y="44.3">-37</text><text class="b" x="10" y="14.5">Иванченко А. В.</text><text class="r" x="10" y="23.5">R:329</text><text class="r" x="10" y="34">R:159</text><text x="10" y="44">Косарев В. С.</text><text class="sc" x="65" y="30.5">3:0</text><text class="c" x="105" y="28.9">65</text></g>
<g id="m66" transform="translate(48.5,2220.5)"><use href="#B"/><use href="#S1"/><use href="#S2"/><text class="c" x="-17.5" y="14.3">-38</text><text class="c" x="-17.5" y="44.3">-39</text><text x="10" y="14.5">Любимов Д. И.</text><text class="r" x="10" y="23.5">R:231</text><text class="r" x="10" y="34">R:374</text><text class="b" x="10" y="44">Ботнарь Р. А.</text><text class="sc" x="65" y="30.5">1:3</text><text class="c" x="105" y="28.9">66</text></g>
<g id="m67" transform="translate(223.5,2070.5)"><use href="#B"/><text class="b" x="10" y="14.5">Шумаев В. П.</text><text class="r" x="10" y="23.5">R:349</text><text class="r" x="10" y="34">R:303</text><text x="10" y="44">Кошовкин М. А.</text><text class="sc" x="65" y="30.5">3:2</text><text class="c" x="105" y="28.9">67</text></g>
<g id="m68" transform="translate(223.5,2190.5)"><use href="#B"/><text x="10" y="14.5">Иванченко А. В.</text><text class="r" x="10" y="23.5">R:329</text><text class="r" x="10" y="34">R:374</text><text class="b" x="10" y="44">Ботнарь Р. А.</text><text class="sc" x="65" y="30.5">0:3</text><text class="c" x="105" y="28.9">68</text></g>
<g id="m69" transform="translate(398.5,2130.5)"><use href="#B"/><text x="10" y="14.5">Шумаев В. П.</text><text class="r" x="10" y="23.5">R:349</text><text class="r" x="10" y="34">R:374</text><text class="b" x="10" y="44">Ботнарь Р. А.</text><text class="sc" x="65" y="30.5">0:3</text><text class="c" x="105" y="28.9">69</text><use href="#P1" fill="#ffffe0"/><use href="#P2" fill="#ffffe0"/><text class="pn" x="118" y="11.6">18</text><text class="pn" x="118" y="48">17</text></g>
<g id="m55" transform="translate(573.5,2040.5)"><use href="#B"/><use href="#S1"/><use href="#S2"/><text class="c" x="-17.5" y="14.3">-44</text><text class="c" x="-17.5" y="44.3">-45</text><text x="10" y="14.5">Зайцев С. А.</text><text class="r" x="10" y="23.5">R:423</text><text class="r" x="10" y="34">R:379</text><text class="b" x="10" y="44">Андреев К. В.</text><text class="sc" x="65" y="30.5">2:3</text><text class="c" x="105" y="28.9">55</text></g>
<g id="m56" transform="translate(573.5,2100.5)"><use href="#B"/><use href="#S1"/><use href="#S2"/><text class="c" x="-17.5" y="14.3">-46</text><text class="c" x="-17.5" y="44.3">-47</text><text class="b" x="10" y="14.5">Ревидов В. В.</text><text class="r" x="10" y="23.5">R:432</text><text class="r" x="10" y="34">R:404</text><text x="10" y="44">Степанов А. С.</text><text class="sc" x="65" y="30.5">3:1</text><text class="c" x="105" y="28.9">56</text></g>
<g id="m57" transform="translate(748.5,2070.5)"><use href="#B"/><text class="b" x="10" y="14.5">Андреев К. В.</text><text class="r" x="10" y="23.5">R:379</text><text class="r" x="10" y="34">R:432</text><text x="10" y="44">Ревидов В. В.</text><text class="sc" x="65" y="30.5">3:1</text><text class="c" x="105" y="28.9">57</text><use href="#P1" fill="#ffffe0"/><use href="#P2" fill="#ffffe0"/><text class="pn" x="118" y="11.6">9</text><text class="pn" x="118" y="48">10</text></g>
<g id="m54" transform="translate(923.5,2040.5)"><use href="#B"/><use href="#S1"/><use href="#S2"/><text class="c" x="-17.5" y="14.3">-48</text><text class="c" x="-17.5" y="44.3">-49</text><text x="10" y="14.5">Марченко В. В.</text><text class="r" x="10" y="23.5">R:345</text><text class="r" x="10" y="34">R:431</text><text class="b" x="10" y="44">Евтушенко Р. В.</text><text class="sc" x="65" y="30.5">Тех</text><text class="c" x="105" y="28.9">54</text><use href="#P1" fill="#ffffe0"/><use href="#P2" fill="#ffffe0"/><text class="pn" x="118" y="11.6">8</text><text class="pn" x="118" y="48">7</text></g>
<g id="m53" transform="translate(1098.5,2040.5)"><use href="#B"/><use href="#S1"/><use href="#S2"/><text class="c" x="-17.5" y="14.3">-50</text><text class="c" x="-17.5" y="44.3">-51</text><text class="b" x="10" y="14.5">Федосов Д. Ю.</text><text class="r" x="10" y="23.5">R:395</text><text class="r" x="10" y="34">R:433</text><text x="10" y="44">Долбня А. Д.</text><text class="sc" x="65" y="30.5">3:0</text><text class="c" x="105" y="28.9">53</text><use href="#P1" fill="#ffffe0"/><use href="#P2" fill="#ffffe0"/><text class="pn" x="118" y="11.6">5</text><text class="pn" x="118" y="48">6</text></g>
<g id="m62" transform="translate(923.5,2135.5)"><use href="#B"/><use href="#S1"/><use href="#S2"/><text class="c" x="-17.5" y="14.3">-59</text><text class="c" x="-17.5" y="44.3">-60</text><text class="b" x="10" y="14.5">Помазан А. Н.</text><text class="r" x="10" y="23.5">R:397</text><text class="r" x="10" y="34">R:364</text><text x="10" y="44">Глухов В. В.</text><text class="sc" x="65" y="30.5">Тех</text><text class="c" x="105" y="28.9">62</text><use href="#P1" fill="#ffffe0"/><use href="#P2" fill="#ffffe0"/><text class="pn" x="118" y="11.6">15</text><text class="pn" x="118" y="48">16</text></g>
<g id="m58" transform="translate(1098.5,2135.5)"><use href="#B"/><use href="#S1"/><use href="#S2"/><text class="c" x="-17.5" y="14.3">-55</text><text class="c" x="-17.5" y="44.3">-56</text><text class="b" x="10" y="14.5">Зайцев С. А.</text><text class="r" x="10" y="23.5">R:423</text><text class="r" x="10" y="34">R:404</text><text x="10" y="44">Степанов А. С.</text><text class="sc" x="65" y="30.5">3:1</text><text class="c" x="105" y="28.9">58</text><use href="#P1" fill="#ffffe0"/><use href="#P2" fill="#ffffe0"/><text class="pn" x="118" y="11.6">11</text><text class="pn" x="118" y="48">12</text></g>
<g id="m75" transform="translate(48.5,2315.5)"><use href="#B"/><use href="#S1"/><use href="#S2"/><text class="c" x="-17.5" y="14.3">-28</text><text class="c" x="-17.5" y="44.3">-29</text><text class="b" x="10" y="14.5">Майков А. А.</text><text class="r" x="10" y="23.5">R:199</text><text class="r" x="10" y="34">R:52</text><text x="10" y="44">Бородин С. О.</text><text class="sc" x="65" y="30.5">3:0</text><text class="c" x="105" y="28.9">75</text></g>
<g id="m76" transform="translate(48.5,2375.5)"><use href="#B"/><use href="#S1"/><use href="#S2"/><text class="c" x="-17.5" y="14.3">-30</text><text class="c" x="-17.5" y="44.3">-31</text><text x="10" y="14.5">Нечаев А. В.</text><text class="r" x="10" y="23.5">R:235</text><text class="r" x="10" y="34">R:160</text><text class="b" x="10" y="44">Кошовкин Д. М.</text><text class="sc" x="65" y="30.5">1:3</text><text class="c" x="105" y="28.9">76</text></g>
<g id="m77" transform="translate(223.5,2345.5)"><use href="#B"/><text x="10" y="14.5">Майков А. А.</text><text class="r" x="10" y="23.5">R:199</text><text class="r" x="10" y="34">R:160</text><text class="b" x="10" y="44">Кошовкин Д. М.</text><text class="sc" x="65" y="30.5">1:3</text><text class="c" x="105" y="28.9">77</text><use href="#P1" fill="#ffffe0"/><use href="#P2" fill="#ffffe0"/><text class="pn" x="118" y="11.6">26</text><text class="pn" x="118" y="48">25</text></g>
<g id="m71" transform="translate(398.5,2315.5)"><use href="#B"/><use href="#S1"/><use href="#S2"/><text class="c" x="-17.5" y="14.3">-63</text><text class="c" x="-17.5" y="44.3">-64</text><text x="10" y="14.5">Шилько Т. А.</text><text class="r" x="10" y="23.5">R:199</text><text class="r" x="10" y="34">R:312</text><text class="b" x="10" y="44">Ионов Н. В.</text><text class="sc" x="65" y="30.5">2:3</text><text class="c" x="105" y="28.9">71</text></g>
<g id="m72" transform="translate(398.5,2375.5)"><use href="#B"/><use href="#S1"/><use href="#S2"/><text class="c" x="-17.5" y="14.3">-65</text><text class="c" x="-17.5" y="44.3">-66</text><text x="10" y="14.5">Косарев В. С.</text><text class="r" x="10" y="23.5">R:159</text><text class="r" x="10" y="34">R:231</text><text class="b" x="10" y="44">Любимов Д. И.</text><text class="sc" x="65" y="30.5">0:3</text><text class="c" x="105" y="28.9">72</text></g>
<g id="m73" transform="translate(573.5,2345.5)"><use href="#B"/><text class="b" x="10" y="14.5">Ионов Н. В.</text><text class="r" x="10" y="23.5">R:312</text><text class="r" x="10" y="34">R:231</text><text x="10" y="44">Любимов Д. И.</text><text class="sc" x="65" y="30.5">3:0</text><text class="c" x="105" y="28.9">73</text><use href="#P1" fill="#ffffe0"/><use href="#P2" fill="#ffffe0"/><text class="pn" x="118" y="11.6">21</text><text class="pn" x="118" y="48">22</text></g>
<g id="m59" transform="translate(748.5,2315.5)"><use href="#B"/><use href="#S1"/><use href="#S2"/><text class="c" x="-17.5" y="14.3">-40</text><text class="c" x="-17.5" y="44.3">-41</text><text class="b" x="10" y="14.5">Андреев Д. В.</text><text class="r" x="10" y="23.5">R:398</text><text class="r" x="10" y="34">R:397</text><text x="10" y="44">Помазан А. Н.</text><text class="sc" x="65" y="30.5">3:2</text><text class="c" x="105" y="28.9">59</text></g>
<g id="m60" transform="translate(748.5,2375.5)"><use href="#B"/><use href="#S1"/><use href="#S2"/><text class="c" x="-17.5" y="14.3">-42</text><text class="c" x="-17.5" y="44.3">-43</text><text class="b" x="10" y="14.5">Старостин М. В.</text><text class="r" x="10" y="23.5">R:385</text><text class="r" x="10" y="34">R:364</text><text x="10" y="44">Глухов В. В.</text><text class="sc" x="65" y="30.5">3:1</text><text class="c" x="105" y="28.9">60</text></g>
<g id="m61" transform="translate(923.5,2345.5)"><use href="#B"/><text class="b" x="10" y="14.5">Андреев Д. В.</text><text class="r" x="10" y="23.5">R:398</text><text class="r" x="10" y="34">R:385</text><text x="10" y="44">Старостин М. В.</text><text class="sc" x="65" y="30.5">3:0</text><text class="c" x="105" y="28.9">61</text><use href="#P1" fill="#ffffe0"/><use href="#P2" fill="#ffffe0"/><text class="pn" x="118" y="11.6">13</text><text class="pn" x="118" y="48">14</text></g>
<g id="m70" transform="translate(1098.5,2315.5)"><use href="#B"/><use href="#S1"/><use href="#S2"/><text class="c" x="-17.5" y="14.3">-67</text><text class="c" x="-17.5" y="44.3">-68</text><text class="b" x="10" y="14.5">Кошовкин М. А.</text><text class="r" x="10" y="23.5">R:303</text><text class="r" x="10" y="34">R:329</text><text x="10" y="44">Иванченко А. В.</text><text class="sc" x="65" y="30.5">3:0</text><text class="c" x="105" y="28.9">70</text><use href="#P1" fill="#ffffe0"/><use href="#P2" fill="#ffffe0"/><text class="pn" x="118" y="11.6">19</text><text class="pn" x="118" y="48">20</text></g>
<g id="m78" transform="translate(48.5,2470.5)"><use href="#B"/><use href="#S1"/><use href="#S2"/><text class="c" x="-17.5" y="14.3">-75</text><text class="c" x="-17.5" y="44.3">-76</text><text x="10" y="14.5">Бородин С. О.</text><text class="r" x="10" y="23.5">R:52</text><text class="r" x="10" y="34">R:235</text><text class="b" x="10" y="44">Нечаев А. В.</text><text class="sc" x="65" y="30.5">0:3</text><text class="c" x="105" y="28.9">78</text><use href="#P1" fill="#ffffe0"/><use href="#P2" fill="#ffffe0"/><text class="pn" x="118" y="11.6">28</text><text class="pn" x="118" y="48">27</text></g>
<g id="m74" transform="translate(223.5,2470.5)"><use href="#B"/><use href="#S1"/><use href="#S2"/><text class="c" x="-17.5" y="14.3">-71</text><text class="c" x="-17.5" y="44.3">-72</text><text x="10" y="14.5">Шилько Т. А.</text><text class="r" x="10" y="23.5">R:199</text><text class="r" x="10" y="34">R:159</text><text class="b" x="10" y="44">Косарев В. С.</text><text class="sc" x="65" y="30.5">1:3</text><text class="c" x="105" y="28.9">74</text><use href="#P1" fill="#ffffe0"/><use href="#P2" fill="#ffffe0"/><text class="pn" x="118" y="11.6">24</text><text class="pn" x="118" y="48">23</text></g>
</g>
</svg>
